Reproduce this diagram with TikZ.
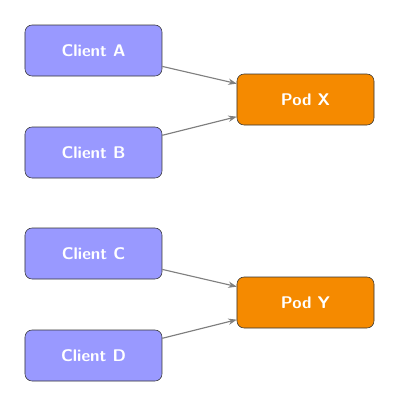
\documentclass[tikz,border=0pt]{standalone}
\usetikzlibrary{arrows.meta}
\definecolor{clientblue}{HTML}{9999FF}
\definecolor{podorange}{HTML}{F58A00}
\begin{document}
\begin{tikzpicture}[>={Stealth[length=6pt]}, line join=round,
    client/.style={draw=black!80, fill=clientblue, rounded corners=5pt, minimum width=3.425cm, minimum height=1.275cm, text=white, font=\sffamily\bfseries\large},
    pod/.style={client, fill=podorange},
    conn/.style={->, draw=gray, thick}]
    \useasboundingbox (0,0) rectangle (10,-10.15);
    \node[client] (ca) at (2.3375,-1.2625) {Client A};
    \node[client] (cb) at (2.3375,-3.8125) {Client B};
    \node[client] (cc) at (2.3375,-6.3375) {Client C};
    \node[client] (cd) at (2.3375,-8.8875) {Client D};
    \node[pod] (px) at (7.6375,-2.4875) {Pod X};
    \node[pod] (py) at (7.6375,-7.5625) {Pod Y};
    \draw[conn] (ca) -- (px);
    \draw[conn] (cb) -- (px);
    \draw[conn] (cc) -- (py);
    \draw[conn] (cd) -- (py);
\end{tikzpicture}
\end{document}
